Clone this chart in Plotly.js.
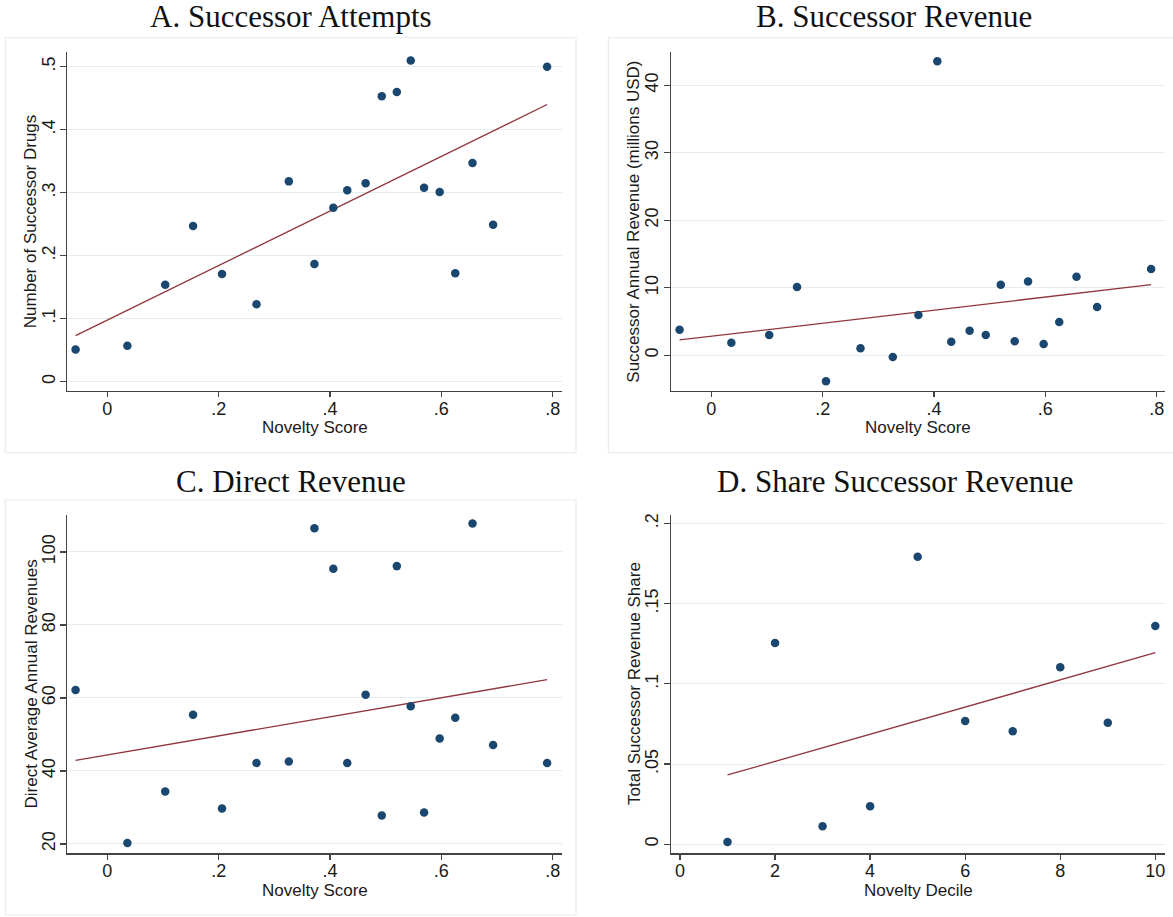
<!DOCTYPE html>
<html>
<head>
<meta charset="utf-8">
<script src="https://cdn.plot.ly/plotly-3.0.1.min.js"></script>
<style>html,body{margin:0;padding:0;background:#fff;}#chart{width:1173px;height:917px;}</style>
</head>
<body>
<div id="chart"></div>
<script>
// ---- data ----
const panelTitles = ["A. Successor Attempts", "B. Successor Revenue", "C. Direct Revenue", "D. Share Successor Revenue"];
const noveltyScore = [-0.057, 0.036, 0.104, 0.154, 0.206, 0.268, 0.326, 0.372, 0.406, 0.431, 0.464, 0.493, 0.520, 0.545, 0.569, 0.597, 0.625, 0.656, 0.693, 0.790];
const successorDrugs = [0.051, 0.057, 0.154, 0.247, 0.171, 0.123, 0.318, 0.187, 0.276, 0.304, 0.315, 0.453, 0.460, 0.510, 0.308, 0.301, 0.172, 0.347, 0.249, 0.500];
const successorRevenue = [3.80, 1.87, 3.01, 10.11, -3.85, 1.04, -0.25, 5.97, 43.55, 2.02, 3.65, 3.01, 10.46, 2.07, 10.95, 1.68, 4.93, 11.64, 7.15, 12.77];
const directRevenue = [62.2, 20.3, 34.4, 55.4, 29.7, 42.2, 42.6, 106.5, 95.4, 42.2, 60.9, 27.8, 96.1, 57.7, 28.6, 48.9, 54.6, 107.8, 47.1, 42.2];
const noveltyDecile = [1, 2, 3, 4, 5, 6, 7, 8, 9, 10];
const shareSuccessorRevenue = [0.0015, 0.1254, 0.0112, 0.0237, 0.1792, 0.0768, 0.0704, 0.1103, 0.0758, 0.1360];
// fitted line values at the first and last x
const fitA = [0.073, 0.440];
const fitB = [2.27, 10.46];
const fitC = [42.9, 65.0];
const fitD = [0.0432, 0.1194];
// tick values / labels
const scoreTicks = [0, 0.2, 0.4, 0.6, 0.8];
const scoreTickText = ["0", ".2", ".4", ".6", ".8"];
const drugTicks = [0, 0.1, 0.2, 0.3, 0.4, 0.5];
const drugTickText = ["0", ".1", ".2", ".3", ".4", ".5"];
const succRevTicks = [0, 10, 20, 30, 40];
const directTicks = [20, 40, 60, 80, 100];
const decileTicks = [0, 2, 4, 6, 8, 10];
const shareTicks = [0, 0.05, 0.1, 0.15, 0.2];
const shareTickText = ["0", ".05", ".1", ".15", ".2"];
const xTitles = ["Novelty Score", "Novelty Score", "Novelty Score", "Novelty Decile"];
const yTitles = ["Number of Successor Drugs", "Successor Annual Revenue (millions USD)", "Direct Average Annual Revenues", "Total Successor Revenue Share"];

// ---- styling ----
const W = 1173, H = 917;
const px = v => v / W;
const py = v => 1 - v / H;
const MARK = '#1a476f', FIT = '#90353b';
const sans = 'Liberation Sans, Arial, sans-serif';
const serif = 'Liberation Serif, Times New Roman, serif';
const TXT = '#1a1a1a';

const traces = [];
const sets = [
  {x: noveltyScore, y: successorDrugs, fit: fitA, xa: 'x', ya: 'y'},
  {x: noveltyScore, y: successorRevenue, fit: fitB, xa: 'x2', ya: 'y2'},
  {x: noveltyScore, y: directRevenue, fit: fitC, xa: 'x3', ya: 'y3'},
  {x: noveltyDecile, y: shareSuccessorRevenue, fit: fitD, xa: 'x4', ya: 'y4'}
];
sets.forEach(s => {
  traces.push({type: 'scatter', mode: 'lines', x: [s.x[0], s.x[s.x.length - 1]], y: s.fit, xaxis: s.xa, yaxis: s.ya,
    line: {color: FIT, width: 1.3}, showlegend: false, hoverinfo: 'skip'});
  traces.push({type: 'scatter', mode: 'markers', x: s.x, y: s.y, xaxis: s.xa, yaxis: s.ya,
    marker: {color: MARK, size: 8.5}, showlegend: false, hoverinfo: 'x+y'});
});

function xaxis(domain, range, tv, tt, anchor) {
  return {domain: domain, range: range, anchor: anchor, tickmode: 'array', tickvals: tv, ticktext: tt,
    showgrid: false, zeroline: false, showline: true, linecolor: '#444', linewidth: 1.4,
    ticks: 'outside', ticklen: 5, tickwidth: 1.3, tickcolor: '#444', ticklabelstandoff: -4,
    tickfont: {family: sans, size: 18, color: TXT}, automargin: false, fixedrange: true};
}
function yaxis(domain, range, tv, tt, anchor) {
  return {domain: domain, range: range, anchor: anchor, tickmode: 'array', tickvals: tv, ticktext: tt,
    showgrid: true, gridcolor: '#e4edf1', gridwidth: 1, zeroline: false, showline: true, linecolor: '#444', linewidth: 1.4,
    ticks: 'outside', ticklen: 6, tickwidth: 1.3, tickcolor: '#444', tickangle: -90, ticklabelstandoff: -2,
    tickfont: {family: sans, size: 18, color: TXT}, automargin: false, fixedrange: true};
}

const xDomL = [px(67.3), px(561.7)], xDomR = [px(671), px(1165.3)];
const yDomT = [py(391), py(52.3)], yDomB = [py(853.3), py(515)];

const titleAnn = [
  {text: panelTitles[0], x: px(290.5), y: py(17)},
  {text: panelTitles[1], x: px(894), y: py(17)},
  {text: panelTitles[2], x: px(291), y: py(481)},
  {text: panelTitles[3], x: px(894.5), y: py(481)}
].map(a => Object.assign(a, {xref: 'paper', yref: 'paper', showarrow: false, xanchor: 'center', yanchor: 'middle',
  font: {family: serif, size: 31, color: '#111'}}));

const xTitleAnn = [
  {text: xTitles[0], x: px(314.5), y: py(427)},
  {text: xTitles[1], x: px(918), y: py(427)},
  {text: xTitles[2], x: px(314.5), y: py(890)},
  {text: xTitles[3], x: px(918), y: py(890)}
].map(a => Object.assign(a, {xref: 'paper', yref: 'paper', showarrow: false, xanchor: 'center', yanchor: 'middle',
  font: {family: sans, size: 17, color: TXT}}));

const yTitleAnn = [
  {text: yTitles[0], x: px(30.5), y: py(221.7)},
  {text: yTitles[1], x: px(634), y: py(221.7)},
  {text: yTitles[2], x: px(30.5), y: py(684)},
  {text: yTitles[3], x: px(634), y: py(684)}
].map(a => Object.assign(a, {xref: 'paper', yref: 'paper', showarrow: false, xanchor: 'center', yanchor: 'middle',
  textangle: -90, font: {family: sans, size: 17, color: TXT}}));

const layout = {
  width: W, height: H, margin: {l: 0, r: 0, t: 0, b: 0}, paper_bgcolor: '#fff', plot_bgcolor: 'rgba(0,0,0,0)',
  showlegend: false,
  xaxis: xaxis(xDomL, [-0.0719, 0.8162], scoreTicks, scoreTickText, 'y'),
  yaxis: yaxis(yDomT, [-0.0148, 0.5229], drugTicks, drugTickText, 'x'),
  xaxis2: xaxis(xDomR, [-0.0724, 0.8155], scoreTicks, scoreTickText, 'y2'),
  yaxis2: yaxis(yDomT, [-5.29, 44.89], succRevTicks, succRevTicks.map(String), 'x2'),
  xaxis3: xaxis(xDomL, [-0.0719, 0.8162], scoreTicks, scoreTickText, 'y3'),
  yaxis3: yaxis(yDomB, [17.45, 110.1], directTicks, directTicks.map(String), 'x3'),
  xaxis4: xaxis(xDomR, [-0.189, 10.21], decileTicks, decileTicks.map(String), 'y4'),
  yaxis4: yaxis(yDomB, [-0.0056, 0.2052], shareTicks, shareTickText, 'x4'),
  annotations: titleAnn.concat(xTitleAnn, yTitleAnn),
  shapes: [
    {x0: px(5.3), x1: px(576), y0: py(452.7), y1: py(37.7)},
    {x0: px(608.3), x1: px(1180), y0: py(452.7), y1: py(37.7)},
    {x0: px(5.3), x1: px(576), y0: py(915), y1: py(500)}
  ].map(s => Object.assign(s, {type: 'rect', xref: 'paper', yref: 'paper', layer: 'below',
    line: {color: '#e6eef0', width: 1.2}, fillcolor: 'rgba(0,0,0,0)'}))
};

Plotly.newPlot('chart', traces, layout, {staticPlot: true, displayModeBar: false});
</script>
</body>
</html>
